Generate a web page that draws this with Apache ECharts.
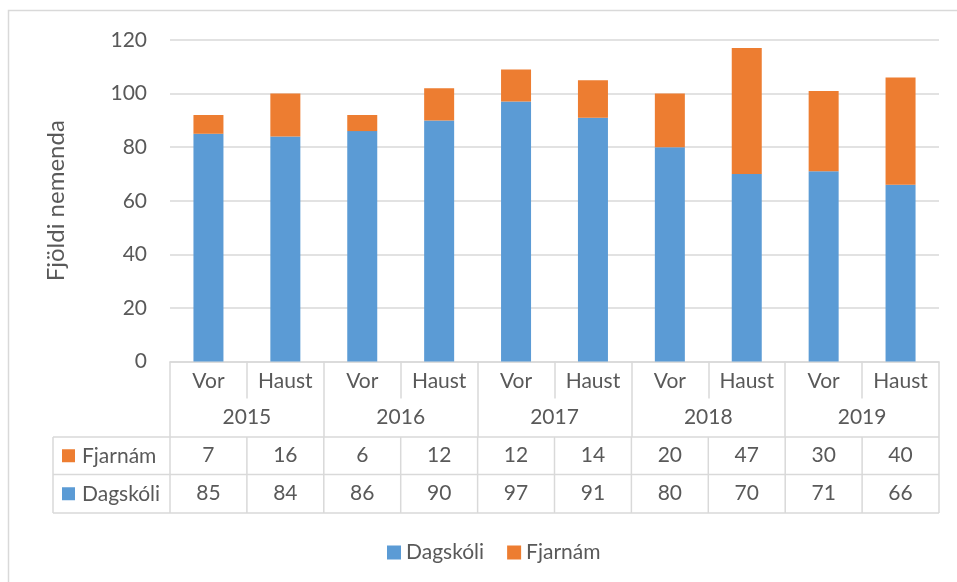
<!DOCTYPE html>
<html><head><meta charset="utf-8">
<script src="https://cdn.jsdelivr.net/npm/echarts@6/dist/echarts.min.js"></script>
<style>html,body{margin:0;padding:0;background:#fff}#c{width:957px;height:582px}</style>
</head><body><div id="c"></div>
<script>
var semesters = ['Vor','Haust','Vor','Haust','Vor','Haust','Vor','Haust','Vor','Haust'];
var years = ['2015','2016','2017','2018','2019'];
var dagskoli = [85,84,86,90,97,91,80,70,71,66];
var fjarnam = [7,16,6,12,12,14,20,47,30,40];
var seriesNames = ['Dagskóli','Fjarnám'];
var yTicks = {min:0, max:120, interval:20};

var FONT = 'Lato';
var TXT = '#595959';
var LINE = '#d9d9d9';
var BLUE = '#5B9BD5', ORANGE = '#ED7D31';
var gL = 170, gR = 939, gT = 40, gB = 361.5;
var tabLeft = 53, rowTops = [437, 474.5, 513];
var FS = 21;

var chart = echarts.init(document.getElementById('c'));
function lbl(margin){ return {show:true, interval:0, color:TXT, fontFamily:FONT, fontSize:FS, lineHeight:FS, margin:margin}; }

var graphics = [];
graphics.push({type:'rect', shape:{x:8.5,y:10.5,width:960,height:590}, style:{fill:null, stroke:LINE, lineWidth:1.5}, silent:true});
rowTops.forEach(function(y){
  graphics.push({type:'line', shape:{x1:tabLeft,y1:y,x2:gR,y2:y}, style:{stroke:LINE, lineWidth:1.5}, silent:true});
});
var cw = (gR-gL)/semesters.length;
for (var i=0;i<=semesters.length;i++){
  var x = gL + i*cw;
  graphics.push({type:'line', shape:{x1:x,y1:rowTops[0],x2:x,y2:rowTops[2]}, style:{stroke:LINE, lineWidth:1.5}, silent:true});
}
graphics.push({type:'line', shape:{x1:tabLeft,y1:rowTops[0],x2:tabLeft,y2:rowTops[2]}, style:{stroke:LINE, lineWidth:1.5}, silent:true});
var rowSeries = [{name:seriesNames[1], color:ORANGE},{name:seriesNames[0], color:BLUE}];
rowSeries.forEach(function(r, k){
  var cy = (rowTops[k]+rowTops[k+1])/2;
  graphics.push({type:'rect', shape:{x:62,y:cy-6.5,width:13,height:13}, style:{fill:r.color}, silent:true});
  graphics.push({type:'text', x:82, y:cy, style:{text:r.name, fill:TXT, font:FS+'px '+FONT, textVerticalAlign:'middle', verticalAlign:'middle'}, silent:true});
});

chart.setOption({
  animation:false,
  textStyle:{fontFamily:FONT},
  grid:{left:gL, right:957-gR, top:gT, bottom:582-gB, containLabel:false},
  legend:{data:seriesNames, left:382, top:537, itemWidth:14, itemHeight:14, itemGap:23, icon:'rect',
    textStyle:{color:TXT, fontFamily:FONT, fontSize:FS}},
  yAxis:{type:'value', min:yTicks.min, max:yTicks.max, interval:yTicks.interval,
    name:'Fjöldi nemenda', nameLocation:'middle', nameRotate:90, nameGap:102,
    nameTextStyle:{color:TXT, fontFamily:FONT, fontSize:24},
    axisLine:{show:false}, axisTick:{show:false},
    axisLabel:{color:TXT, fontFamily:FONT, fontSize:FS, margin:23},
    splitLine:{lineStyle:{color:LINE, width:1.5}}},
  xAxis:[
    {type:'category', data:semesters, position:'bottom',
      axisLine:{show:true, lineStyle:{color:LINE, width:1.5}},
      axisTick:{show:true, interval:0, length:37, lineStyle:{color:LINE, width:1.5}},
      axisLabel:lbl(9)},
    {type:'category', data:years, position:'bottom',
      axisLine:{show:false},
      axisTick:{show:true, interval:0, length:75.5, lineStyle:{color:LINE, width:1.5}},
      axisLabel:lbl(45)},
    {type:'category', data:fjarnam.map(String), position:'bottom',
      axisLine:{show:false}, axisTick:{show:false}, axisLabel:lbl(83)},
    {type:'category', data:dagskoli.map(String), position:'bottom',
      axisLine:{show:false}, axisTick:{show:false}, axisLabel:lbl(121)}
  ],
  series:[
    {name:seriesNames[0], type:'bar', stack:'s', xAxisIndex:0, data:dagskoli, barWidth:30,
      itemStyle:{color:BLUE}},
    {name:seriesNames[1], type:'bar', stack:'s', xAxisIndex:0, data:fjarnam, barWidth:30,
      itemStyle:{color:ORANGE}}
  ],
  graphic:graphics
});
</script></body></html>
